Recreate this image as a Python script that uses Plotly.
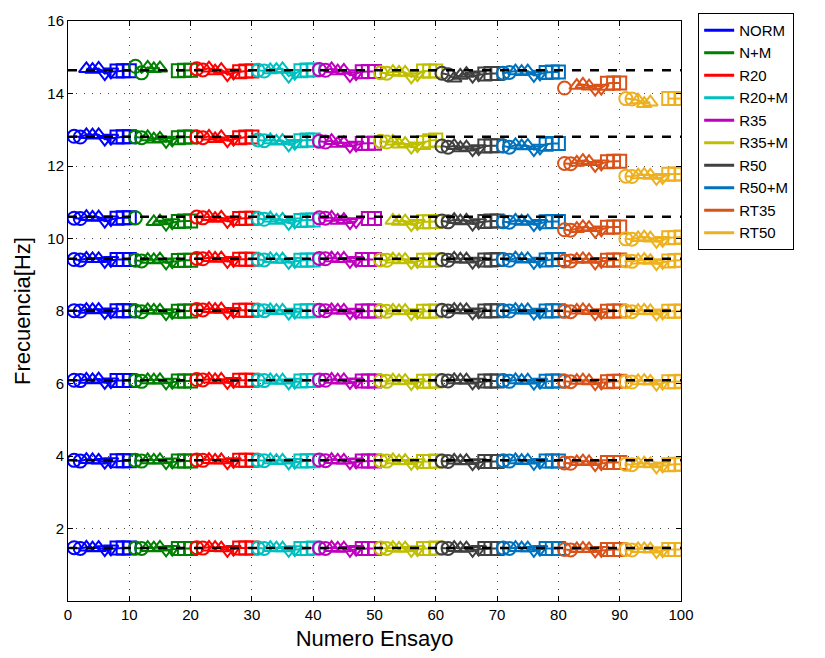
import plotly.graph_objects as go

groups = ["NORM", "N+M", "R20", "R20+M", "R35", "R35+M", "R50", "R50+M", "RT35", "RT50"]
colors = ["#0000FF", "#008000", "#FF0000", "#00BFBF", "#BF00BF", "#BFBF00",
          "#404040", "#0072BD", "#D95319", "#EDB120"]
tests_per_group = 10
ref_freqs = [1.46, 3.88, 6.09, 8.01, 9.44, 10.60, 12.81, 14.64]
test_symbols = ["circle-open", "circle-open", "triangle-up-open", "triangle-up-open",
                "triangle-up-open", "triangle-down-open", "triangle-down-open",
                "square-open", "square-open", "square-open"]

NORM = [
    [1.47, 1.45, 1.48, 1.46, 1.47, 1.42, 1.44, 1.46, 1.46, 1.46],
    [3.88, 3.86, 3.90, 3.89, 3.88, 3.83, 3.85, 3.87, 3.87, 3.87],
    [6.09, 6.08, 6.11, 6.10, 6.12, 6.03, 6.05, 6.08, 6.08, 6.08],
    [8.01, 8.00, 8.04, 8.03, 8.04, 7.96, 7.98, 8.01, 8.01, 8.01],
    [9.42, 9.41, 9.45, 9.44, 9.44, 9.37, 9.40, 9.42, 9.42, 9.42],
    [10.56, 10.55, 10.60, 10.58, 10.59, 10.48, 10.52, 10.56, 10.57, 10.57],
    [12.82, 12.80, 12.86, 12.85, 12.86, 12.74, 12.77, 12.80, 12.81, 12.81],
    [None, None, 14.68, 14.66, 14.69, 14.55, 14.60, 14.62, 14.63, 14.63],
]
N_M = [
    [1.46, 1.45, 1.47, 1.46, 1.48, 1.41, 1.43, 1.45, 1.45, 1.45],
    [3.88, 3.86, 3.89, 3.88, 3.89, 3.82, 3.84, 3.86, 3.86, 3.86],
    [6.08, 6.06, 6.10, 6.09, 6.10, 6.02, 6.04, 6.07, 6.07, 6.07],
    [8.00, 7.98, 8.03, 8.02, 8.02, 7.93, 7.96, 7.99, 8.00, 8.00],
    [9.40, 9.38, 9.42, 9.41, 9.43, 9.33, 9.36, 9.39, 9.40, 9.40],
    [10.57, None, None, 10.46, 10.48, 10.40, 10.44, 10.47, 10.48, 10.48],
    [12.80, 12.78, 12.80, 12.74, 12.76, 12.68, 12.72, 12.78, 12.80, 12.80],
    [14.75, 14.57, 14.72, 14.68, 14.70, None, None, 14.63, 14.64, 14.64],
]
R20 = [
    [1.47, 1.46, 1.48, 1.47, 1.46, 1.40, 1.43, 1.46, 1.46, 1.46],
    [3.89, 3.88, 3.90, 3.88, 3.89, 3.82, 3.85, 3.88, 3.88, 3.88],
    [6.11, 6.10, 6.12, 6.10, 6.11, 6.03, 6.06, 6.09, 6.09, 6.09],
    [8.04, 8.03, 8.06, 8.04, 8.05, 7.96, 7.99, 8.02, 8.02, 8.02],
    [9.45, 9.44, 9.47, 9.45, 9.46, 9.37, 9.40, 9.43, 9.43, 9.43],
    [10.59, 10.57, 10.60, 10.55, 10.58, 10.47, 10.51, 10.55, 10.56, 10.56],
    [12.80, 12.78, 12.82, 12.75, 12.80, 12.70, 12.74, 12.78, 12.80, 12.80],
    [14.68, 14.65, 14.70, 14.62, 14.66, 14.52, 14.57, 14.60, 14.62, 14.62],
]
R20_M = [
    [1.46, 1.45, 1.47, 1.46, 1.46, 1.40, 1.42, 1.45, 1.45, 1.46],
    [3.88, 3.87, 3.89, 3.87, 3.88, 3.81, 3.83, 3.86, 3.87, 3.87],
    [6.09, 6.08, 6.10, 6.08, 6.09, 6.02, 6.04, 6.07, 6.08, 6.08],
    [8.02, 8.01, 8.03, 8.01, 8.02, 7.94, 7.97, 8.00, 8.01, 8.01],
    [9.42, 9.41, 9.44, 9.42, 9.43, 9.34, 9.37, 9.40, 9.41, 9.41],
    [10.55, 10.53, 10.56, 10.50, 10.53, 10.42, 10.46, 10.50, 10.51, 10.51],
    [12.72, 12.70, 12.72, 12.68, 12.70, 12.58, 12.63, 12.70, 12.72, 12.72],
    [14.64, 14.62, 14.65, 14.66, 14.68, 14.48, 14.56, 14.63, 14.65, 14.65],
]
R35 = [
    [1.46, 1.45, 1.47, 1.45, 1.46, 1.40, 1.43, 1.45, 1.45, 1.45],
    [3.89, 3.87, 3.90, 3.88, 3.88, 3.82, 3.84, 3.86, 3.86, 3.86],
    [6.10, 6.09, 6.11, 6.09, 6.10, 6.03, 6.05, 6.07, 6.07, 6.07],
    [8.02, 8.01, 8.03, 8.02, 8.02, 7.95, 7.97, 8.00, 8.00, 8.00],
    [9.45, 9.44, 9.46, 9.44, 9.45, 9.37, 9.40, 9.42, 9.42, 9.42],
    [10.57, 10.56, 10.58, 10.50, 10.52, 10.44, 10.47, None, 10.55, 10.55],
    [12.68, 12.66, 12.70, 12.62, 12.64, 12.55, 12.58, 12.62, 12.63, 12.63],
    [14.66, 14.64, 14.68, 14.62, 14.64, 14.50, 14.55, 14.60, 14.61, 14.61],
]
R35_M = [
    [1.46, 1.45, 1.47, 1.45, 1.46, 1.40, 1.42, 1.45, 1.45, 1.46],
    [3.87, 3.86, 3.89, 3.86, 3.87, 3.80, 3.82, 3.85, 3.85, 3.86],
    [6.07, 6.06, 6.09, 6.07, 6.08, 6.00, 6.03, 6.06, 6.06, 6.07],
    [8.00, 7.99, 8.02, 8.00, 8.01, 7.93, 7.96, 7.99, 7.99, 8.00],
    [9.41, 9.40, 9.43, 9.41, 9.42, 9.34, 9.37, 9.40, 9.40, 9.41],
    [None, None, 10.50, 10.47, 10.48, 10.38, 10.42, 10.46, 10.46, 10.47],
    [12.68, 12.66, 12.68, 12.60, 12.62, 12.52, 12.56, 12.65, 12.70, 12.72],
    [14.57, 14.56, 14.60, 14.58, 14.58, 14.46, 14.52, 14.62, 14.62, 14.62],
]
R50 = [
    [1.46, 1.45, 1.47, 1.45, 1.46, 1.40, 1.43, 1.45, 1.45, 1.45],
    [3.86, 3.85, 3.88, 3.86, 3.87, 3.79, 3.82, 3.85, 3.85, 3.85],
    [6.08, 6.07, 6.10, 6.09, 6.09, 6.02, 6.04, 6.07, 6.07, 6.07],
    [8.02, 8.00, 8.04, 8.03, 8.03, 7.95, 7.98, 8.00, 8.01, 8.01],
    [9.42, 9.40, 9.45, 9.43, 9.43, 9.35, 9.38, 9.41, 9.41, 9.42],
    [10.48, 10.46, 10.52, 10.48, 10.50, 10.40, 10.44, 10.47, 10.48, 10.48],
    [12.55, 12.52, 12.56, 12.50, 12.52, 12.45, 12.48, 12.55, 12.56, 12.56],
    [14.56, 14.52, 14.42, 14.50, 14.55, 14.48, 14.52, 14.54, 14.55, 14.55],
]
R50_M = [
    [1.46, 1.45, 1.47, 1.46, 1.46, 1.40, 1.43, 1.45, 1.45, 1.45],
    [3.87, 3.86, 3.89, 3.87, 3.88, 3.80, 3.83, 3.86, 3.86, 3.86],
    [6.08, 6.06, 6.10, 6.08, 6.09, 6.01, 6.04, 6.06, 6.07, 6.07],
    [8.01, 8.00, 8.04, 8.02, 8.03, 7.94, 7.97, 8.00, 8.01, 8.01],
    [9.42, 9.40, 9.46, 9.43, 9.44, 9.34, 9.38, 9.41, 9.42, 9.42],
    [10.46, 10.45, 10.50, 10.47, 10.48, 10.38, 10.42, 10.46, 10.47, 10.47],
    [12.55, 12.52, 12.58, 12.55, 12.56, 12.45, 12.50, 12.60, 12.62, 12.62],
    [14.56, 14.58, 14.62, 14.60, 14.62, 14.50, 14.54, 14.58, 14.59, 14.59],
]
RT35 = [
    [1.42, 1.41, 1.44, 1.45, 1.44, 1.38, 1.40, 1.42, 1.42, 1.42],
    [3.81, 3.80, 3.84, 3.86, 3.84, 3.76, 3.79, 3.82, 3.82, 3.82],
    [6.06, 6.05, 6.08, 6.09, 6.07, 6.00, 6.02, 6.05, 6.06, 6.06],
    [7.99, 7.98, 8.02, 8.03, 8.01, 7.93, 7.96, 7.99, 8.00, 8.00],
    [9.38, 9.38, 9.42, 9.44, 9.42, 9.33, 9.37, 9.40, 9.41, 9.41],
    [10.24, 10.23, 10.27, 10.32, 10.30, 10.20, 10.24, 10.31, 10.32, 10.32],
    [12.07, 12.06, 12.10, 12.15, 12.12, 12.02, 12.06, 12.12, 12.13, 12.13],
    [14.15, None, 14.22, 14.25, 14.20, 14.12, 14.15, 14.28, 14.29, 14.29],
]
RT50 = [
    [1.42, 1.41, 1.44, 1.44, 1.43, 1.36, 1.39, 1.42, 1.42, 1.42],
    [3.77, 3.76, 3.79, 3.80, 3.78, 3.70, 3.73, 3.76, 3.77, 3.77],
    [6.05, 6.04, 6.07, 6.08, 6.06, 5.98, 6.01, 6.05, 6.05, 6.06],
    [7.99, 7.98, 8.01, 8.02, 8.00, 7.92, 7.95, 7.99, 7.99, 8.00],
    [9.38, 9.37, 9.40, 9.42, 9.39, 9.31, 9.34, 9.38, 9.39, 9.40],
    [9.99, 9.98, 10.02, 10.04, 10.01, 9.92, 9.95, 10.02, 10.03, 10.04],
    [11.72, 11.71, 11.75, 11.76, 11.74, 11.66, 11.69, 11.77, 11.78, 11.78],
    [13.86, 13.85, 13.82, 13.72, 13.76, None, None, 13.86, 13.86, 13.86],
]
group_data = [NORM, N_M, R20, R20_M, R35, R35_M, R50, R50_M, RT35, RT50]

x_ticks = list(range(0, 101, 10))
y_ticks = list(range(2, 17, 2))

fig = go.Figure()

for gi, (name, color, modes) in enumerate(zip(groups, colors, group_data)):
    xs, ys, syms = [], [], []
    for mode_vals in modes:
        for ti, v in enumerate(mode_vals):
            xs.append(gi * tests_per_group + ti + 1)
            ys.append(v)
            syms.append(test_symbols[ti])
        xs.append(None)
        ys.append(None)
        syms.append("circle-open")
    fig.add_trace(go.Scatter(
        x=xs, y=ys, mode="lines+markers", showlegend=False, connectgaps=False,
        line=dict(color=color, width=2),
        marker=dict(symbol=syms, size=13, color=color, line=dict(color=color, width=2)),
        hoverinfo="skip",
    ))

# reference dashed lines
for rf in ref_freqs:
    fig.add_trace(go.Scatter(
        x=[x_ticks[0], x_ticks[-1]], y=[rf, rf], mode="lines", showlegend=False,
        line=dict(color="black", width=2.5, dash="dash"), hoverinfo="skip",
    ))

# legend entries (lines only)
for name, color in zip(groups, colors):
    fig.add_trace(go.Scatter(
        x=[None], y=[None], mode="lines", name=name,
        line=dict(color=color, width=3),
    ))

axis_common = dict(
    showline=True, linecolor="black", linewidth=1, mirror="ticks",
    ticks="inside", ticklen=5, tickcolor="black",
    showgrid=True, gridcolor="#444444", griddash="1px,7px", gridwidth=1,
    zeroline=False, tickfont=dict(size=15, color="black", family="Liberation Sans, Arial"),
)

fig.update_layout(
    width=825, height=658,
    margin=dict(l=68, r=144, t=13, b=54),
    paper_bgcolor="white", plot_bgcolor="white",
    font=dict(family="Liberation Sans, Arial", color="black"),
    xaxis=dict(range=[0, 100], tickvals=x_ticks, **axis_common,
               title=dict(text="Numero Ensayo", font=dict(size=22), standoff=8)),
    yaxis=dict(range=[0, 16], tickvals=y_ticks, **axis_common,
               title=dict(text="Frecuencia[Hz]", font=dict(size=22), standoff=10)),
    legend=dict(x=1.028, y=1.014, xanchor="left", yanchor="top",
                bgcolor="white", bordercolor="black", borderwidth=1,
                font=dict(size=15, color="black"), tracegroupgap=0),
)

fig.write_html("out.html")
